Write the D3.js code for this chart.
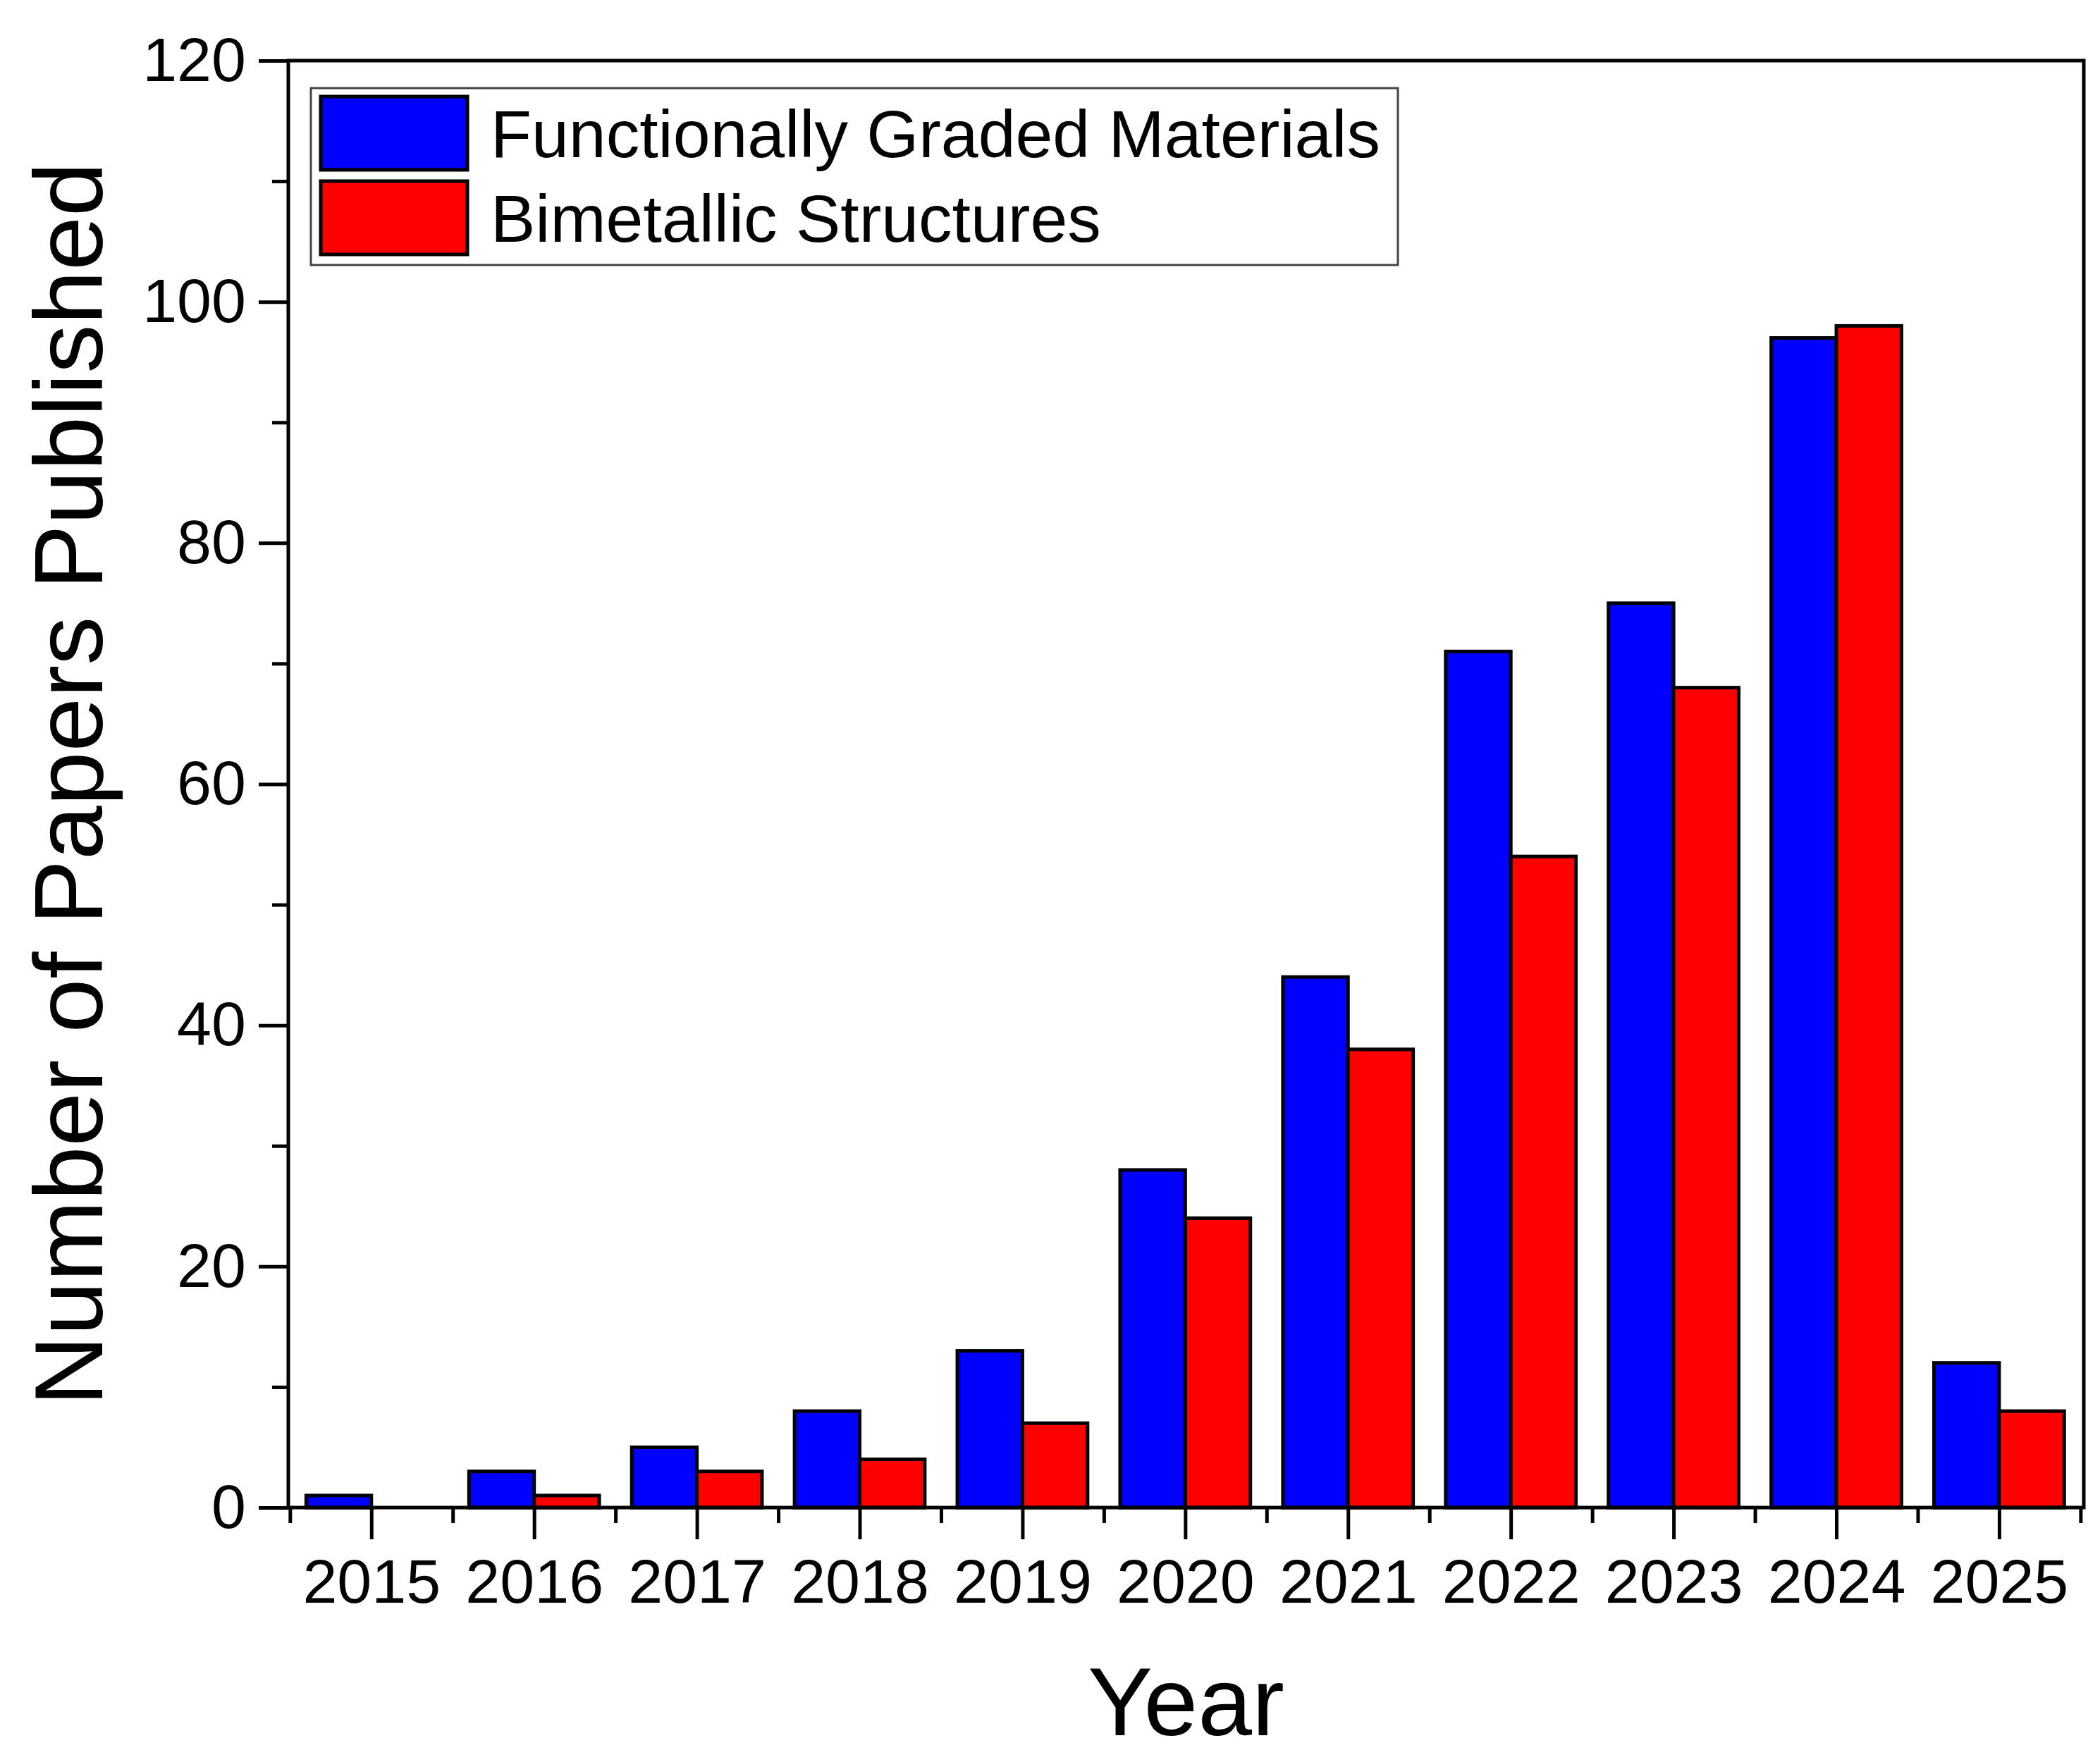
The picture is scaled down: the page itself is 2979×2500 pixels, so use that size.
<!DOCTYPE html>
<html>
<head>
<meta charset="utf-8">
<script src="https://cdn.jsdelivr.net/npm/d3@7"></script>
<style>
  body { margin: 0; background: #fff; }
  text { font-family: "Liberation Sans", Arial, sans-serif; fill: #000; }
</style>
</head>
<body>
<svg id="chart"></svg>
<script>
// data
var years = [2015, 2016, 2017, 2018, 2019, 2020, 2021, 2022, 2023, 2024, 2025];
var fgmValues = [1, 3, 5, 8, 13, 28, 44, 71, 75, 97, 12];
var bimetalValues = [0, 1, 3, 4, 7, 24, 38, 54, 68, 98, 8];
var seriesNames = ["Functionally Graded Materials", "Bimetallic Structures"];
var seriesColors = ["#0000ff", "#ff0000"];
var yTicks = [0, 20, 40, 60, 80, 100, 120];

var width = 2979, height = 2500;
var mLeft = 409, mRight = 2956, mTop = 86, mBottom = 2139;

var svg = d3.select("#chart").attr("width", width).attr("height", height);

var x = d3.scaleLinear().domain([2014.49, 2025.52]).range([mLeft, mRight]);
var y = d3.scaleLinear().domain([0, 120]).range([mBottom, mTop]);
var barW = x(2015.4) - x(2015);

// bars
var series = [fgmValues, bimetalValues];
series.forEach(function(vals, s) {
  svg.append("g").selectAll("rect")
    .data(years)
    .join("rect")
    .attr("x", function(d) { return s == 0 ? x(d) - barW : x(d); })
    .attr("y", function(d, i) { return y(vals[i]); })
    .attr("width", barW)
    .attr("height", function(d, i) { return mBottom - y(vals[i]); })
    .attr("fill", seriesColors[s])
    .attr("stroke", "#000")
    .attr("stroke-width", 5);
});

// frame
svg.append("rect")
  .attr("x", mLeft).attr("y", mTop)
  .attr("width", mRight - mLeft).attr("height", mBottom - mTop)
  .attr("fill", "none").attr("stroke", "#000").attr("stroke-width", 5);

// y axis: major + minor ticks
svg.append("g").attr("transform", "translate(" + mLeft + ",0)")
  .call(d3.axisLeft(y).tickValues(yTicks).tickSize(42).tickPadding(18));
svg.append("g").attr("transform", "translate(" + mLeft + ",0)")
  .call(d3.axisLeft(y).tickValues(d3.range(10, 120, 20)).tickSize(23).tickFormat(""));

// x axis: major + minor ticks
svg.append("g").attr("transform", "translate(0," + mBottom + ")")
  .call(d3.axisBottom(x).tickValues(years).tickSize(45).tickPadding(28).tickFormat(d3.format("d")));
svg.append("g").attr("transform", "translate(0," + mBottom + ")")
  .call(d3.axisBottom(x).tickValues(d3.range(2014.5, 2026, 1)).tickSize(22).tickFormat(""));

svg.selectAll(".domain").remove();
svg.selectAll(".tick line").attr("stroke", "#000").attr("stroke-width", 5);
svg.selectAll(".tick text").style("font-size", "88px").attr("fill", "#000")
  .style("font-family", "'Liberation Sans', Arial, sans-serif");

// axis titles
svg.append("text")
  .attr("transform", "translate(145," + ((mTop + mBottom) / 2) + ") rotate(-90)")
  .attr("text-anchor", "middle")
  .style("font-size", "138px")
  .text("Number of Papers Published");
svg.append("text")
  .attr("x", (mLeft + mRight) / 2)
  .attr("y", 2462)
  .attr("text-anchor", "middle")
  .style("font-size", "138px")
  .text("Year");

// legend
var legend = svg.append("g");
legend.append("rect")
  .attr("x", 441).attr("y", 125).attr("width", 1542).attr("height", 251)
  .attr("fill", "#fff").attr("stroke", "#444").attr("stroke-width", 3);
seriesNames.forEach(function(name, i) {
  var ly = 137 + i * 120;
  legend.append("rect")
    .attr("x", 455).attr("y", ly).attr("width", 208).attr("height", 104)
    .attr("fill", seriesColors[i]).attr("stroke", "#000").attr("stroke-width", 5);
  legend.append("text")
    .attr("x", 696).attr("y", ly + 86)
    .style("font-size", "95px")
    .text(name);
});
</script>
</body>
</html>
